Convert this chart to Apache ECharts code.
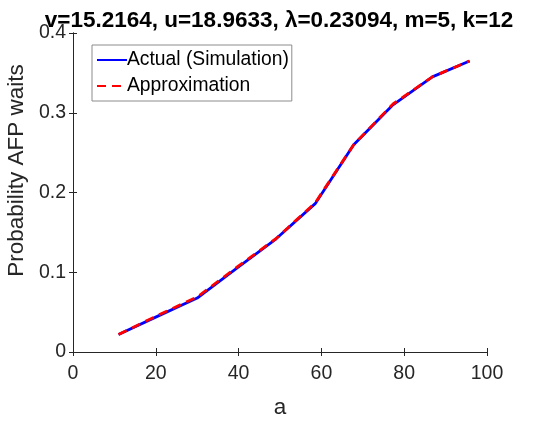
<!DOCTYPE html>
<html><head><meta charset="utf-8">
<script src="https://cdn.jsdelivr.net/npm/echarts@6/dist/echarts.min.js"></script>
<style>html,body{margin:0;padding:0;background:#fff}#c{width:552px;height:421px}</style>
</head><body><div id="c"></div>
<script>
const aValues = [11, 20.5, 30, 39.5, 49, 58.5, 67.8, 77.3, 86.8, 95.8];
const actual = [0.022, 0.045, 0.0677, 0.105, 0.1416, 0.186, 0.26, 0.31, 0.345, 0.365];
const approx = [0.022, 0.046, 0.069, 0.106, 0.142, 0.187, 0.26, 0.311, 0.345, 0.365];
const xTicks = [0, 20, 40, 60, 80, 100];
const yTicks = [0, 0.1, 0.2, 0.3, 0.4];
const titleText = 'v=15.2164, u=18.9633, λ=0.23094, m=5, k=12';

const font = 'Liberation Sans, Arial, Helvetica, sans-serif';
const axisCol = '#262626';
const chart = echarts.init(document.getElementById('c'));
const pair = (xs, ys) => xs.map((x, i) => [x, ys[i]]);
const axBase = {
  axisLine: {show: true, lineStyle: {color: '#262626', width: 1}},
  axisTick: {show: true, inside: true, length: 4, lineStyle: {color: '#262626'}},
  splitLine: {show: false}
};
chart.setOption({
  animation: false,
  title: {text: titleText, left: 274, textAlign: 'center', top: 4,
    textStyle: {fontFamily: font, fontSize: 22.5, fontWeight: 'bold', color: '#000'}},
  grid: {left: 73, right: 65, top: 33, bottom: 69, containLabel: false, outerBoundsMode: 'none'},
  legend: {
    left: 92, top: 45, orient: 'vertical', itemWidth: 30, itemHeight: 14, itemGap: 6,
    padding: [5, 3, 5, 4], borderColor: '#8c8c8c', borderWidth: 1, backgroundColor: '#fff',
    itemStyle: {opacity: 0},
    textStyle: {fontFamily: font, fontSize: 19.3, lineHeight: 20, color: '#000', padding: [0, 0, 0, -5]},
    data: ['Actual (Simulation)', 'Approximation']
  },
  xAxis: [
    Object.assign({}, axBase, {type: 'value', min: 0, max: 100, interval: 20,
      name: 'a', nameLocation: 'middle', nameGap: 44,
      nameTextStyle: {fontFamily: font, fontSize: 22.5, color: axisCol},
      axisLabel: {fontFamily: font, fontSize: 19.5, color: axisCol, margin: 12,
        formatter: v => xTicks.includes(v) ? String(v) : ''}}),
    Object.assign({}, axBase, {type: 'value', min: 0, max: 100, interval: 20, position: 'top',
      axisLabel: {show: false}})
  ],
  yAxis: [
    Object.assign({}, axBase, {type: 'value', min: 0, max: 0.4, interval: 0.1,
      name: 'Probability AFP waits', nameLocation: 'middle', nameGap: 40,
      nameTextStyle: {fontFamily: font, fontSize: 22.5, color: axisCol, padding: [0, 0, 0, 44]},
      axisLabel: {fontFamily: font, fontSize: 19.5, color: axisCol, margin: 7,
        formatter: v => { const t = yTicks.find(y => Math.abs(y - v) < 1e-9); return t === undefined ? '' : String(t); }}}),
    Object.assign({}, axBase, {type: 'value', min: 0, max: 0.4, interval: 0.1, position: 'right',
      axisLabel: {show: false}})
  ],
  series: [
    {name: 'Actual (Simulation)', type: 'line', data: pair(aValues, actual), showSymbol: false, symbol: 'none',
      itemStyle: {color: '#0000ff'}, lineStyle: {color: '#0000ff', width: 2.8}, z: 2},
    {name: 'Approximation', type: 'line', data: pair(aValues, approx), showSymbol: false, symbol: 'none',
      itemStyle: {color: '#ff0000'}, lineStyle: {color: '#ff0000', width: 2.8, type: [9, 6]}, z: 3}
  ]
});
</script></body></html>
